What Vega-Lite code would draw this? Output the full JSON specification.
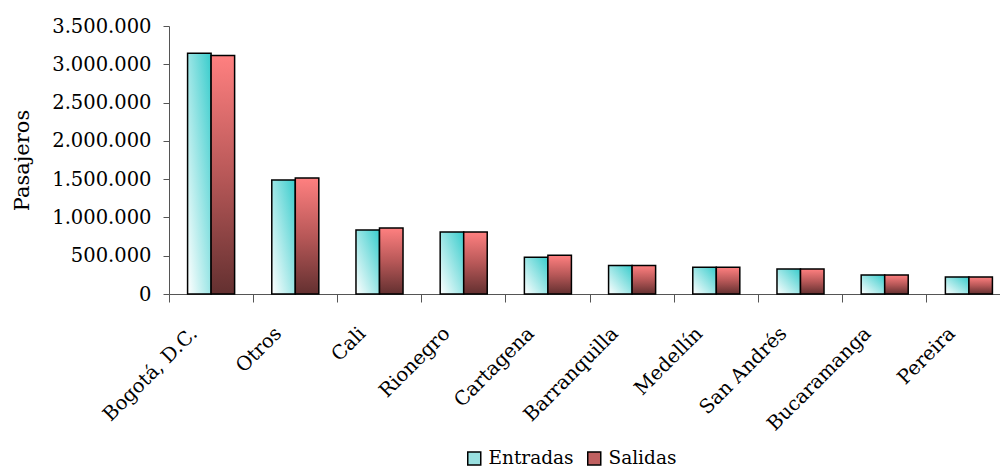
{
  "$schema": "https://vega.github.io/schema/vega-lite/v6.json",
  "autosize": {"type": "none"},
  "padding": {"left": 169, "top": 26, "right": 0, "bottom": 176},
  "width": 842,
  "height": 268,
  "config": {"view": {"stroke": null}, "font": "DejaVu Serif", "legend": {"labelFont": "DejaVu Serif"}},
  "data": {
    "values": [
      {"ciudad": "Bogotá, D.C.", "serie": "Entradas", "pasajeros": 3145000},
      {"ciudad": "Bogotá, D.C.", "serie": "Salidas", "pasajeros": 3115000},
      {"ciudad": "Otros", "serie": "Entradas", "pasajeros": 1490000},
      {"ciudad": "Otros", "serie": "Salidas", "pasajeros": 1516000},
      {"ciudad": "Cali", "serie": "Entradas", "pasajeros": 835000},
      {"ciudad": "Cali", "serie": "Salidas", "pasajeros": 862000},
      {"ciudad": "Rionegro", "serie": "Entradas", "pasajeros": 810000},
      {"ciudad": "Rionegro", "serie": "Salidas", "pasajeros": 810000},
      {"ciudad": "Cartagena", "serie": "Entradas", "pasajeros": 479000},
      {"ciudad": "Cartagena", "serie": "Salidas", "pasajeros": 505000},
      {"ciudad": "Barranquilla", "serie": "Entradas", "pasajeros": 372000},
      {"ciudad": "Barranquilla", "serie": "Salidas", "pasajeros": 372000},
      {"ciudad": "Medellín", "serie": "Entradas", "pasajeros": 350000},
      {"ciudad": "Medellín", "serie": "Salidas", "pasajeros": 350000},
      {"ciudad": "San Andrés", "serie": "Entradas", "pasajeros": 327000},
      {"ciudad": "San Andrés", "serie": "Salidas", "pasajeros": 327000},
      {"ciudad": "Bucaramanga", "serie": "Entradas", "pasajeros": 249000},
      {"ciudad": "Bucaramanga", "serie": "Salidas", "pasajeros": 249000},
      {"ciudad": "Pereira", "serie": "Entradas", "pasajeros": 223000},
      {"ciudad": "Pereira", "serie": "Salidas", "pasajeros": 223000}
    ]
  },
  "encoding": {
    "x": {
      "field": "ciudad",
      "type": "nominal",
      "sort": null,
      "scale": {"paddingInner": 0, "paddingOuter": 0},
      "axis": {
        "title": null,
        "bandPosition": 0,
        "labelAngle": -45,
        "labelAlign": "right",
        "labelBaseline": "middle",
        "labelOffset": -17,
        "labelPadding": 28,
        "tickSize": 8,
        "labelFont": "DejaVu Serif",
        "labelFontSize": 19.5,
        "labelColor": "#000000",
        "domainColor": "#555555",
        "tickColor": "#555555"
      }
    },
    "xOffset": {
      "field": "serie",
      "type": "nominal",
      "scale": {"domain": ["Entradas", "Salidas"], "paddingInner": 0, "paddingOuter": 0.79}
    },
    "y": {
      "field": "pasajeros",
      "type": "quantitative",
      "scale": {"domain": [0, 3500000], "nice": false},
      "axis": {
        "title": "Pasajeros",
        "titleFont": "DejaVu Serif",
        "titleFontSize": 21,
        "titleFontWeight": "normal",
        "titleColor": "#000000",
        "titlePadding": 19,
        "values": [0, 500000, 1000000, 1500000, 2000000, 2500000, 3000000, 3500000],
        "labelExpr": "replace(format(datum.value, ','), regexp(',', 'g'), '.')",
        "labelFont": "DejaVu Serif",
        "labelFontSize": 19.5,
        "labelColor": "#000000",
        "labelPadding": 12,
        "tickSize": 6,
        "grid": false,
        "domainColor": "#555555",
        "tickColor": "#555555"
      }
    }
  },
  "layer": [
    {
      "transform": [{"filter": "datum.serie === 'Entradas'"}],
      "mark": {
        "type": "bar",
        "stroke": "#000000",
        "strokeWidth": 1.5,
        "fill": {"gradient": "linear", "x1": 0, "y1": 1, "x2": 1, "y2": 0, "stops": [{"offset": 0, "color": "#ffffff"}, {"offset": 1, "color": "#38cccc"}]}
      }
    },
    {
      "transform": [{"filter": "datum.serie === 'Salidas'"}],
      "mark": {
        "type": "bar",
        "stroke": "#000000",
        "strokeWidth": 1.5,
        "fill": {"gradient": "linear", "x1": 0, "y1": 0, "x2": 0, "y2": 1, "stops": [{"offset": 0, "color": "#ff8080"}, {"offset": 0.5, "color": "#b85858"}, {"offset": 1, "color": "#633030"}]}
      }
    },
    {
      "transform": [{"filter": "false"}],
      "mark": {"type": "bar"},
      "encoding": {
        "fill": {
          "field": "serie",
          "type": "nominal",
          "scale": {"domain": ["Entradas", "Salidas"], "range": ["#99e0e0", "#c06060"]},
          "legend": {
            "title": null,
            "orient": "none",
            "direction": "horizontal",
            "legendX": 296,
            "legendY": 423,
            "symbolType": "square",
            "symbolSize": 169,
            "symbolStrokeColor": "#000000",
            "symbolStrokeWidth": 1.5,
            "labelFont": "DejaVu Serif",
            "labelFontSize": 18.5,
            "labelColor": "#000000",
            "labelOffset": 5,
            "columnPadding": 10,
            "encode": {
              "symbols": {
                "update": {
                  "fill": [
                    {"test": "datum.value === 'Entradas'", "value": {"gradient": "linear", "x1": 0, "y1": 1, "x2": 1, "y2": 0, "stops": [{"offset": 0, "color": "#ffffff"}, {"offset": 1, "color": "#38cccc"}]}},
                    {"value": {"gradient": "linear", "x1": 0, "y1": 0, "x2": 0, "y2": 1, "stops": [{"offset": 0, "color": "#ff8080"}, {"offset": 1, "color": "#633030"}]}}
                  ],
                  "stroke": {"value": "#000000"},
                  "opacity": {"value": 1}
                }
              }
            }
          }
        }
      }
    }
  ]
}
